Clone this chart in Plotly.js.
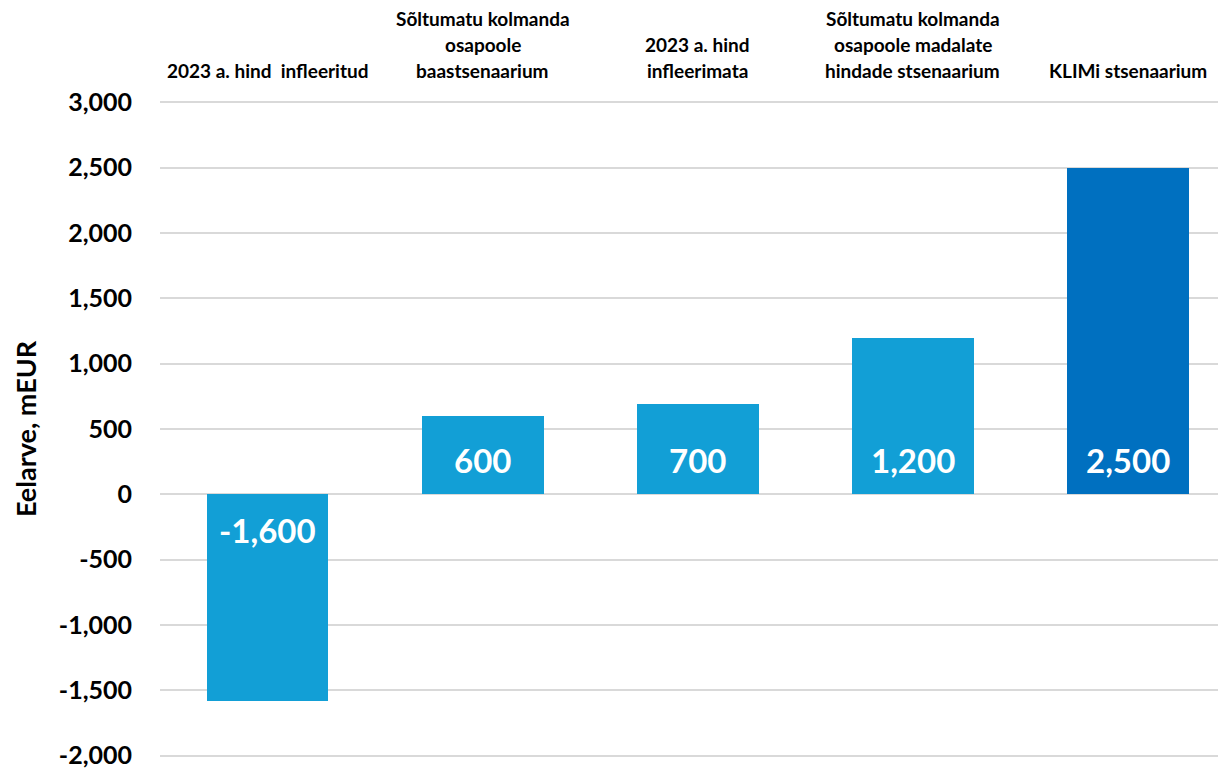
<!DOCTYPE html>
<html>
<head>
<meta charset="utf-8">
<script src="https://cdn.plot.ly/plotly-3.0.1.min.js"></script>
<style>html,body{margin:0;padding:0;background:#fff;}#chart{width:1218px;height:772px;}</style>
</head>
<body>
<div id="chart"></div>
<script>
const categories = [
  "2023 a. hind\u00a0\u00a0infleeritud",
  "Sõltumatu kolmanda<br>osapoole<br>baastsenaarium",
  "2023 a. hind<br>infleerimata",
  "Sõltumatu kolmanda<br>osapoole madalate<br>hindade stsenaarium",
  "KLIMi stsenaarium"
];
const values = [-1585, 600, 690, 1200, 2500];
const valueLabels = ["-1,600", "600", "700", "1,200", "2,500"];
const barColors = ["#129FD6", "#129FD6", "#129FD6", "#129FD6", "#0070C0"];
const yTicks = [-2000, -1500, -1000, -500, 0, 500, 1000, 1500, 2000, 2500, 3000];
const yTickText = ["-2,000", "-1,500", "-1,000", "-500", "0", "500", "1,000", "1,500", "2,000", "2,500", "3,000"];
const yTitle = "Eelarve, mEUR";

const FONT = "Lato, 'Open Sans', sans-serif";

const trace = {
  type: "bar",
  x: categories.map((c, i) => i),
  y: values,
  marker: {color: barColors, line: {width: 0}},
  width: 0.567,
  hoverinfo: "none"
};

const annotations = [];
// top category labels, one annotation per line
const lineGap = 26;
categories.forEach((c, i) => {
  const lines = c.split("<br>");
  lines.forEach((ln, j) => {
    const fromBottom = lines.length - 1 - j;
    annotations.push({
      x: i, xref: "x", y: 1, yref: "paper",
      xanchor: "center", yanchor: "bottom",
      yshift: 17 + fromBottom * lineGap,
      text: "<b>" + ln + "</b>",
      showarrow: false,
      font: {family: FONT, size: 19, color: "#000"}
    });
  });
});
// value labels at inside base of each bar
values.forEach((v, i) => {
  annotations.push({
    x: i, xref: "x", y: 0, yref: "y",
    xanchor: "center", yanchor: "middle",
    yshift: v >= 0 ? 34 : -36,
    text: "<b>" + valueLabels[i] + "</b>",
    showarrow: false,
    font: {family: FONT, size: 33, color: "#ffffff"}
  });
});

const layout = {
  width: 1218, height: 772,
  margin: {l: 160, r: 0, t: 101, b: 15, pad: 0},
  paper_bgcolor: "#fff", plot_bgcolor: "#fff",
  showlegend: false,
  bargap: 0,
  xaxis: {
    range: [-0.5, 4.42],
    showticklabels: false, showgrid: false, zeroline: false,
    ticks: "", showline: false, fixedrange: true
  },
  yaxis: {
    range: [-2010, 3010],
    tickvals: yTicks, ticktext: yTickText,
    tickfont: {family: FONT, size: 25, color: "#000", weight: "bold"},
    ticklabeloverflow: "allow",
    ticks: "", ticklen: 0, showline: false,
    gridcolor: "#D9D9D9", gridwidth: 2,
    zeroline: false,
    ticklabelstandoff: 27,
    title: {text: "<b>" + yTitle + "</b>", font: {family: FONT, size: 27, color: "#000"}, standoff: 14},
    automargin: false, fixedrange: true
  },
  annotations: annotations
};

Plotly.newPlot("chart", [trace], layout, {displayModeBar: false, staticPlot: true});
</script>
</body>
</html>
